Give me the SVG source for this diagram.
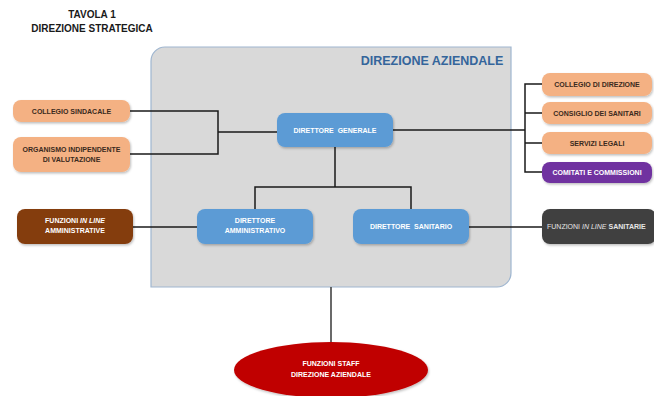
<svg xmlns="http://www.w3.org/2000/svg" width="654" height="396" viewBox="0 0 654 396">
  <defs>
    <filter id="shadow" x="-10%" y="-20%" width="125%" height="150%">
      <feDropShadow dx="1" dy="1.5" stdDeviation="1.2" flood-color="#000" flood-opacity="0.25"/>
    </filter>
    <style>
      text { font-family: "Liberation Sans", Arial, sans-serif; font-weight: bold; text-anchor: middle; }
      text.start { text-anchor: start; }
      .title { font-size: 10px; fill: #1a1a1a; }
      .panel-title { font-size: 12.5px; fill: #34659b; }
      .lbl { font-size: 7px; }
      .dark { fill: #3a2a20; }
      .light { fill: #ffffff; }
      .peach { fill: #f4b183; filter: url(#shadow); }
      .blue { fill: #5b9bd5; filter: url(#shadow); }
      .purple { fill: #7030a0; filter: url(#shadow); }
      .brown { fill: #843c0c; filter: url(#shadow); }
      .grey { fill: #404040; filter: url(#shadow); }
      .staff { fill: #c00000; filter: url(#shadow); }
      .wire { fill: none; stroke: #1a1a1a; stroke-width: 1.5; }
      .stem { fill: none; stroke: #444444; stroke-width: 1.6; }
    </style>
  </defs>

  <rect width="654" height="396" fill="#ffffff"/>

  <!-- Heading -->
  <text class="title" x="92" y="18">TAVOLA 1</text>
  <text class="title" x="92" y="32">DIREZIONE STRATEGICA</text>

  <!-- Direzione aziendale panel -->
  <g id="direzione-aziendale">
    <path d="M151,61 A14,14 0 0 1 165,47 H511 V273 A14,14 0 0 1 497,287 H151 Z" fill="#d9d9d9" stroke="#9fb6d0" stroke-width="1.2"/>
    <text class="panel-title" x="432" y="65">DIREZIONE AZIENDALE</text>
  </g>

  <!-- Connectors -->
  <g id="connectors">
    <path class="wire" d="M130,111 H218 V154 H130 M218,132 H277"/>
    <path class="wire" d="M393,130 H525 M542,84 H525 V172 H542 M525,113 H542 M525,143 H542"/>
    <path class="wire" d="M335,147 V187 M255,209 V187 H411 V209"/>
    <path class="wire" d="M133,227 H197"/>
    <path class="wire" d="M469,227 H542"/>
    <path class="stem" d="M331,287 V342"/>
  </g>

  <!-- Left side nodes -->
  <g id="collegio-sindacale">
    <rect class="peach" x="13" y="100" width="117" height="22" rx="8"/>
    <text class="lbl dark" x="71.5" y="113.5">COLLEGIO SINDACALE</text>
  </g>
  <g id="organismo-indipendente">
    <rect class="peach" x="13" y="137" width="117" height="35" rx="8"/>
    <text class="lbl dark" x="71.5" y="152">ORGANISMO INDIPENDENTE</text>
    <text class="lbl dark" x="71.5" y="162">DI VALUTAZIONE</text>
  </g>
  <g id="funzioni-in-line-amministrative">
    <rect class="brown" x="17" y="209" width="116" height="35" rx="8"/>
    <text class="lbl light" x="75" y="223">FUNZIONI <tspan font-style="italic">IN LINE</tspan></text>
    <text class="lbl light" x="75" y="233">AMMINISTRATIVE</text>
  </g>

  <!-- Direction nodes -->
  <g id="direttore-generale">
    <rect class="blue" x="277" y="113" width="116" height="34" rx="8"/>
    <text class="lbl light" x="335" y="132.5" xml:space="preserve">DIRETTORE  GENERALE</text>
  </g>
  <g id="direttore-amministrativo">
    <rect class="blue" x="197" y="209" width="116" height="35" rx="8"/>
    <text class="lbl light" x="255" y="223">DIRETTORE</text>
    <text class="lbl light" x="255" y="233">AMMINISTRATIVO</text>
  </g>
  <g id="direttore-sanitario">
    <rect class="blue" x="353" y="209" width="116" height="35" rx="8"/>
    <text class="lbl light" x="411" y="229" xml:space="preserve">DIRETTORE  SANITARIO</text>
  </g>

  <!-- Right side nodes -->
  <g id="collegio-di-direzione">
    <rect class="peach" x="542" y="73" width="110" height="23" rx="8"/>
    <text class="lbl dark" x="597" y="86.5">COLLEGIO DI DIREZIONE</text>
  </g>
  <g id="consiglio-dei-sanitari">
    <rect class="peach" x="542" y="102" width="110" height="22" rx="8"/>
    <text class="lbl dark" x="597" y="115.5">CONSIGLIO DEI SANITARI</text>
  </g>
  <g id="servizi-legali">
    <rect class="peach" x="542" y="132" width="110" height="22" rx="8"/>
    <text class="lbl dark" x="597" y="145.5">SERVIZI LEGALI</text>
  </g>
  <g id="comitati-e-commissioni">
    <rect class="purple" x="542" y="162" width="110" height="21" rx="8"/>
    <text class="lbl light" x="597" y="175">COMITATI E COMMISSIONI</text>
  </g>
  <g id="funzioni-in-line-sanitarie">
    <rect class="grey" x="542" y="209" width="114" height="35" rx="8"/>
    <text class="lbl start" x="547" y="229" fill="#e6e6e6" font-size="7.5"><tspan font-weight="normal">FUNZIONI </tspan><tspan font-weight="normal" font-style="italic">IN LINE</tspan> SANITARIE</text>
  </g>

  <!-- Staff -->
  <g id="funzioni-staff">
    <ellipse class="staff" cx="331" cy="370" rx="97" ry="28"/>
    <text class="lbl light" x="331" y="366">FUNZIONI STAFF</text>
    <text class="lbl light" x="331" y="377">DIREZIONE AZIENDALE</text>
  </g>
</svg>
